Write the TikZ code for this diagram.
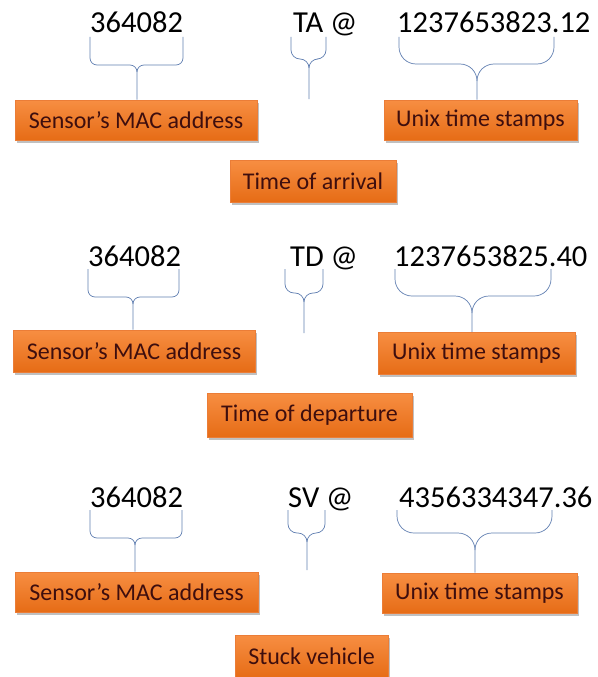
\documentclass[tikz,border=0pt]{standalone}
\usepackage{fontspec}
\setmainfont{Carlito}
\usetikzlibrary{shadows}
\definecolor{boxtop}{RGB}{247,142,66}
\definecolor{boxbot}{RGB}{230,108,22}
\definecolor{boxedge}{RGB}{235,125,55}
\definecolor{labeltext}{RGB}{62,14,14}
\definecolor{bracecol}{RGB}{98,128,178}
\tikzset{
  lbl/.style={draw=boxedge, line width=0.6pt, top color=boxtop, bottom color=boxbot,
    text=labeltext, font=\fontsize{24}{24}\selectfont, inner sep=0pt, anchor=center,
    drop shadow={shadow xshift=1.5pt, shadow yshift=-2.5pt, opacity=0.35, fill=black!70}},
  num/.style={font=\fontsize{30.5}{30.5}\selectfont, anchor=base west, inner sep=0pt, text=black},
  brc/.style={draw=bracecol, line width=0.7pt},
}
% L R M top h r tip
\newcommand\drawbrace[7]{%
  \draw[brc] (#1,#4) -- (#1,#5-#6) to[out=-90,in=180] (#1+#6,#5) -- (#3-#6,#5)
     to[out=0,in=90] (#3,#5+#6) -- (#7);
  \draw[brc] (#2,#4) -- (#2,#5-#6) to[out=-90,in=0] (#2-#6,#5) -- (#3+#6,#5)
     to[out=180,in=90] (#3,#5+#6);
}
\begin{document}
\begin{tikzpicture}[x=1pt,y=-1pt]
\useasboundingbox[fill=white] (0,0) rectangle (597,677);

% ---------- Row 1 ----------
\node[num] (mac1n) at (90,33) {364082};
\node[num] (ta) at (293,33) {TA @};
\node[num] (ts1n) at (397,33) {1237653823.12};
\node[lbl, minimum width=242pt, minimum height=40pt] (mac1) at (136,120) {Sensor’s MAC address};
\node[lbl, minimum width=193pt, minimum height=40pt] (unix1) at (480.5,120) {Unix time stamps};
\node[lbl, minimum width=166pt, minimum height=42pt] (arr) at (313,181) {Time of arrival};
\coordinate (tatip) at (309,99);
\drawbrace{90}{183}{137}{37}{65}{7}{137,0 |- mac1.north}
\drawbrace{291}{326}{309}{37}{59}{9}{tatip}
\drawbrace{399}{554}{477}{37}{64}{17}{477,0 |- unix1.north}

% ---------- Row 2 ----------
\node[num] (mac2n) at (88,266) {364082};
\node[num] (td) at (290,266) {TD @};
\node[num] (ts2n) at (394,266) {1237653825.40};
\node[lbl, minimum width=242pt, minimum height=42pt] (mac2) at (134,351) {Sensor’s MAC address};
\node[lbl, minimum width=197pt, minimum height=42pt] (unix2) at (476.5,353.5) {Unix time stamps};
\node[lbl, minimum width=205pt, minimum height=44pt] (dep) at (309.5,415) {Time of departure};
\coordinate (tdtip) at (304,333);
\drawbrace{88}{179}{133}{269}{297}{7}{133,0 |- mac2.north}
\drawbrace{285}{323}{304}{269}{293}{9}{tdtip}
\drawbrace{395}{551}{472}{269}{296}{17}{472,0 |- unix2.north}

% ---------- Row 3 ----------
\node[num] (mac3n) at (90,507) {364082};
\node[num] (sv) at (288,507) {SV @};
\node[num] (ts3n) at (399,507) {4356334347.36};
\node[lbl, minimum width=243pt, minimum height=40pt] (mac3) at (136.5,592) {Sensor’s MAC address};
\node[lbl, minimum width=195pt, minimum height=40pt] (unix3) at (479.5,593) {Unix time stamps};
\node[lbl, minimum width=153pt, minimum height=43pt] (stuck) at (311.5,656.5) {Stuck vehicle};
\coordinate (svtip) at (307,570);
\drawbrace{90}{182}{135}{510}{538}{7}{135,0 |- mac3.north}
\drawbrace{288}{325}{307}{510}{533}{9}{svtip}
\drawbrace{397}{552}{475}{510}{533}{17}{475,0 |- unix3.north}
\end{tikzpicture}
\end{document}
